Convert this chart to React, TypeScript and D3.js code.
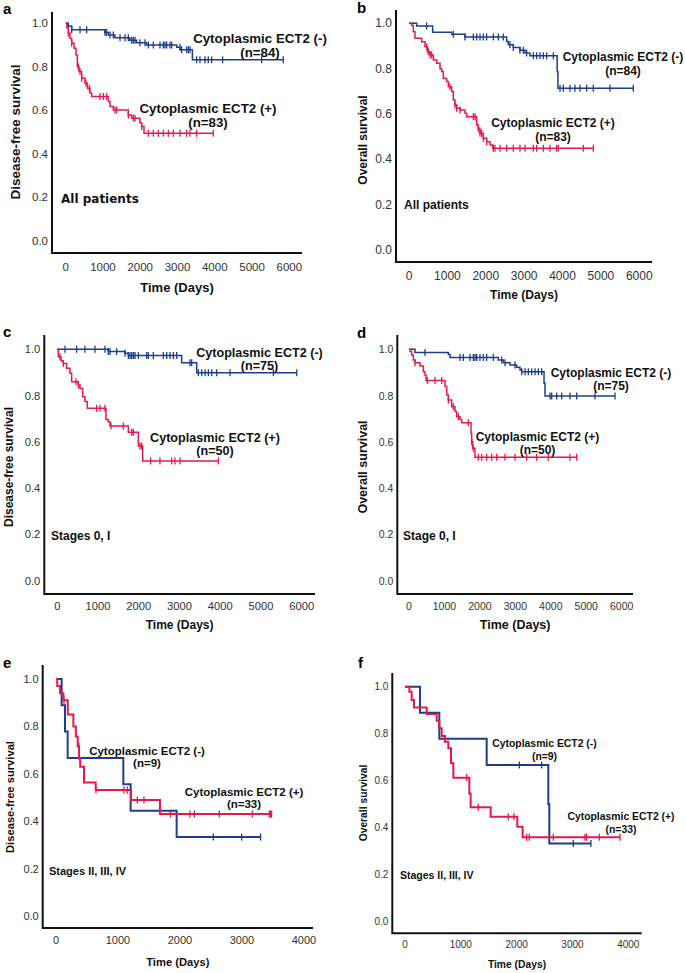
import React from 'react';
import * as d3 from 'd3';

// ---- data (days, survival probability) ----

// a: disease-free survival, all patients
const aNegTimes = [0, 60, 160, 1050, 1150, 1320, 1720, 1900, 2170, 2980, 3070, 3400];
const aNegSurv = [1, 0.988, 0.97, 0.958, 0.946, 0.934, 0.922, 0.911, 0.9, 0.89, 0.878, 0.832];
const aNegCensor = [72, 161, 384, 563, 1055, 1100, 1189, 1278, 1457, 1591, 1681, 1770, 1815, 1860, 1994, 2128, 2217, 2351, 2530, 2620, 2664, 2709, 2798, 2843, 3066, 3111, 3245, 3290, 3334, 3513, 3603, 3737, 3826, 3916, 4211, 5257, 5838];
const aPosTimes = [0, 30, 72, 116, 161, 224, 277, 313, 358, 429, 519, 581, 653, 697, 1144, 1189, 1278, 1681, 1770, 1994, 2038, 2101];
const aPosSurv = [1, 0.98, 0.954, 0.931, 0.908, 0.885, 0.854, 0.8, 0.778, 0.747, 0.724, 0.701, 0.678, 0.663, 0.64, 0.617, 0.601, 0.578, 0.563, 0.543, 0.525, 0.494];
const aPosCensor = [72, 161, 340, 384, 429, 545, 635, 921, 1010, 1100, 1323, 1368, 1681, 1815, 1860, 2038, 2217, 2351, 2485, 2620, 2754, 2888, 3066, 3245, 3334, 3513, 3960];

// b: overall survival, all patients
const bNegTimes = [0, 200, 616, 1111, 1459, 2544, 2588, 2718, 2891, 3022, 3152, 3860, 3880];
const bNegSurv = [1, 0.988, 0.96, 0.952, 0.94, 0.92, 0.905, 0.893, 0.881, 0.869, 0.857, 0.786, 0.714];
const bNegCensor = [460, 1155, 1459, 1676, 1763, 1850, 1936, 2023, 2197, 2327, 2457, 2631, 2718, 2891, 2978, 3065, 3239, 3326, 3412, 3499, 3586, 3760, 3934, 4020, 4194, 4324, 4455, 4628, 4802, 5236, 5844];
const bPosTimes = [0, 69, 113, 156, 330, 417, 478, 547, 634, 721, 808, 851, 894, 981, 1025, 1111, 1155, 1198, 1242, 1328, 1459, 1502, 1763, 1806, 1849, 1936, 2023, 2110, 2179];
const bPosSurv = [1, 0.99, 0.963, 0.934, 0.919, 0.897, 0.875, 0.86, 0.838, 0.824, 0.8, 0.787, 0.757, 0.743, 0.72, 0.699, 0.662, 0.64, 0.625, 0.618, 0.603, 0.588, 0.551, 0.537, 0.515, 0.493, 0.478, 0.463, 0.449];
const bPosCensor = [460, 504, 547, 590, 1068, 1198, 1242, 1328, 1676, 1720, 1806, 1849, 1893, 1936, 2023, 2197, 2240, 2370, 2544, 2718, 2891, 3022, 3239, 3326, 3499, 3673, 3847, 3890, 4541, 4802];

// c: disease-free survival, stages 0, I
const cNegTimes = [0, 1252, 1662, 1744, 3053, 3422];
const cNegSurv = [1, 0.99, 0.983, 0.973, 0.942, 0.899];
const cNegCensor = [188, 475, 679, 925, 1170, 1252, 1293, 1457, 1662, 1744, 1785, 1826, 1867, 1908, 1990, 2194, 2235, 2358, 2604, 2686, 2767, 2849, 2931, 3258, 3299, 3463, 3545, 3627, 3709, 3791, 3913, 4241, 5305, 5878];
const cPosTimes = [0, 25, 90, 147, 229, 311, 352, 516, 557, 622, 679, 737, 1195, 1252, 1293, 1744, 1989, 2096];
const cPosSurv = [1, 0.968, 0.951, 0.939, 0.918, 0.896, 0.86, 0.846, 0.831, 0.795, 0.774, 0.745, 0.697, 0.687, 0.669, 0.641, 0.582, 0.517];
const cPosCensor = [65, 147, 458, 516, 966, 1048, 1170, 1318, 1621, 1826, 1867, 2030, 2071, 2292, 2521, 2808, 2890, 3013, 3954];

// d: overall survival, stage 0, I
const dNegTimes = [0, 169, 1110, 1157, 2520, 2661, 2849, 3037, 3132, 3179, 3809, 3837];
const dNegSurv = [1, 0.986, 0.978, 0.965, 0.954, 0.942, 0.932, 0.922, 0.911, 0.903, 0.853, 0.798];
const dNegCensor = [451, 1439, 1533, 1721, 1815, 1862, 1909, 2003, 2097, 2191, 2379, 2614, 2708, 2990, 3179, 3273, 3367, 3461, 3555, 3649, 3743, 3978, 4025, 4166, 4307, 4542, 4730, 5247, 5812];
const dPosTimes = [0, 28, 75, 122, 169, 310, 404, 451, 480, 1016, 1063, 1110, 1204, 1298, 1345, 1439, 1486, 1749, 1768, 1796, 1862];
const dPosSurv = [1, 0.99, 0.975, 0.954, 0.942, 0.928, 0.903, 0.889, 0.865, 0.839, 0.803, 0.781, 0.752, 0.731, 0.709, 0.697, 0.683, 0.637, 0.601, 0.572, 0.533];
const dPosCensor = [169, 517, 734, 922, 1110, 1251, 1392, 1674, 1768, 1815, 1956, 2050, 2191, 2332, 2473, 2708, 2990, 3320, 3602, 3931, 4542, 4730];

// e: disease-free survival, stages II, III, IV
const eNegTimes = [0, 91, 145, 188, 1086, 1204, 1946];
const eNegSurv = [1, 0.889, 0.778, 0.667, 0.556, 0.444, 0.333];
const eNegCensor = [2537, 2994, 3300];
const ePosTimes = [0, 20, 65, 120, 190, 280, 320, 350, 372, 390, 452, 640, 1210, 1677];
const ePosSurv = [1, 0.97, 0.94, 0.91, 0.85, 0.8, 0.757, 0.715, 0.665, 0.63, 0.563, 0.532, 0.489, 0.43];
const ePosCensor = [129, 371, 645, 1097, 1150, 1312, 1419, 1849, 2161, 2231, 2634, 3166, 3441, 3462, 3478];

// f: overall survival, stages II, III, IV
const fNegTimes = [0, 269, 615, 1463, 2567, 2585];
const fNegSurv = [1, 0.889, 0.778, 0.667, 0.5, 0.333];
const fNegCensor = [2048, 2448, 3015, 3330];
const fPosTimes = [0, 78, 119, 161, 388, 567, 615, 657, 716, 776, 824, 866, 1152, 1176, 1534, 2012, 2107];
const fPosSurv = [1, 0.979, 0.943, 0.912, 0.884, 0.855, 0.823, 0.79, 0.766, 0.738, 0.674, 0.613, 0.546, 0.487, 0.447, 0.404, 0.359];
const fPosCensor = [1104, 1313, 1851, 1952, 2179, 2227, 2657, 3224, 3254, 3481, 3851];

const xTicks6000 = [0, 1000, 2000, 3000, 4000, 5000, 6000];
const xTicks4000 = [0, 1000, 2000, 3000, 4000];
const yTicks = [0, 0.2, 0.4, 0.6, 0.8, 1.0];

const BLUE = '#1f3d8c';
const RED = '#e5194c';
const ARIAL = '"Liberation Sans", Arial, sans-serif';

interface Series { times: number[]; surv: number[]; censor: number[] }

interface Panel {
  letter: string;
  yTitle: string;
  note: string;
  neg: Series; negN: number;
  pos: Series; posN: number;
  xMax: number; xTicks: number[];
  // layout in page pixels
  axisX: number; top: number; bottom: number; right: number;
  x0: number; x1: number; y0: number; y1: number;
  letterX: number; letterY: number;
  xTickY: number; timeY: number; yTitleX: number; yTitleY: number;
  noteX: number; noteY: number; noteFont: string;
  negLab: [number, number]; posLab: [number, number]; labGap: number;
  tickSize: number; titleSize: number; labSize: number; noteSize: number;
  lineW: number;
}

const panels: Panel[] = [
  {
    letter: 'a', yTitle: 'Disease-free survival', note: 'All patients',
    neg: { times: aNegTimes, surv: aNegSurv, censor: aNegCensor }, negN: 84,
    pos: { times: aPosTimes, surv: aPosSurv, censor: aPosCensor }, posN: 83,
    xMax: 6000, xTicks: xTicks6000,
    axisX: 52, top: 12, bottom: 253, right: 302, x0: 65.7, x1: 289.3, y0: 240.7, y1: 23.3,
    letterX: 3, letterY: 14, xTickY: 267, timeY: 287, yTitleX: 15, yTitleY: 132,
    noteX: 61, noteY: 199, noteFont: '"DejaVu Sans", sans-serif',
    negLab: [260, 38], posLab: [208, 108], labGap: 14,
    tickSize: 11.5, titleSize: 13, labSize: 13.3, noteSize: 12, lineW: 1.5,
  },
  {
    letter: 'b', yTitle: 'Overall survival', note: 'All patients',
    neg: { times: bNegTimes, surv: bNegSurv, censor: bNegCensor }, negN: 84,
    pos: { times: bPosTimes, surv: bPosSurv, censor: bPosCensor }, posN: 83,
    xMax: 6000, xTicks: xTicks6000,
    axisX: 396, top: 10, bottom: 262, right: 652, x0: 409, x1: 639.3, y0: 250, y1: 23.3,
    letterX: 357, letterY: 13, xTickY: 276, timeY: 295, yTitleX: 363, yTitleY: 140,
    noteX: 404, noteY: 205, noteFont: ARIAL,
    negLab: [623, 57], posLab: [553, 123], labGap: 14,
    tickSize: 12, titleSize: 12, labSize: 12, noteSize: 12, lineW: 1.5,
  },
  {
    letter: 'c', yTitle: 'Disease-free survival', note: 'Stages 0, I',
    neg: { times: cNegTimes, surv: cNegSurv, censor: cNegCensor }, negN: 75,
    pos: { times: cPosTimes, surv: cPosSurv, censor: cPosCensor }, posN: 50,
    xMax: 6000, xTicks: xTicks6000,
    axisX: 44.3, top: 335, bottom: 594, right: 315, x0: 57.3, x1: 301.7, y0: 580.7, y1: 349.3,
    letterX: 3, letterY: 337, xTickY: 606, timeY: 625, yTitleX: 9, yTitleY: 467,
    noteX: 51, noteY: 536, noteFont: ARIAL,
    negLab: [259.5, 353], posLab: [215, 438], labGap: 13,
    tickSize: 11.2, titleSize: 12, labSize: 12.6, noteSize: 12, lineW: 1.5,
  },
  {
    letter: 'd', yTitle: 'Overall survival', note: 'Stage 0, I',
    neg: { times: dNegTimes, surv: dNegSurv, censor: dNegCensor }, negN: 75,
    pos: { times: dPosTimes, surv: dPosSurv, censor: dPosCensor }, posN: 50,
    xMax: 6000, xTicks: xTicks6000,
    axisX: 397.3, top: 335, bottom: 594, right: 633, x0: 409, x1: 621.7, y0: 580.7, y1: 349.3,
    letterX: 357, letterY: 338, xTickY: 606, timeY: 625, yTitleX: 363, yTitleY: 467,
    noteX: 403, noteY: 536, noteFont: ARIAL,
    negLab: [611, 373], posLab: [537.5, 437], labGap: 13,
    tickSize: 10.5, titleSize: 12.5, labSize: 12, noteSize: 12, lineW: 1.5,
  },
  {
    letter: 'e', yTitle: 'Disease-free survival', note: 'Stages II, III, IV',
    neg: { times: eNegTimes, surv: eNegSurv, censor: eNegCensor }, negN: 9,
    pos: { times: ePosTimes, surv: ePosSurv, censor: ePosCensor }, posN: 33,
    xMax: 4000, xTicks: xTicks4000,
    axisX: 42.7, top: 665, bottom: 928, right: 313, x0: 56, x1: 304, y0: 916, y1: 679,
    letterX: 3, letterY: 668, xTickY: 940, timeY: 962, yTitleX: 10, yTitleY: 797,
    noteX: 49, noteY: 871, noteFont: ARIAL,
    negLab: [147, 751], posLab: [244, 792], labGap: 12.3,
    tickSize: 11, titleSize: 11.2, labSize: 11.5, noteSize: 11, lineW: 2,
  },
  {
    letter: 'f', yTitle: 'Overall survival', note: 'Stages II, III, IV',
    neg: { times: fNegTimes, surv: fNegSurv, censor: fNegCensor }, negN: 9,
    pos: { times: fPosTimes, surv: fPosSurv, censor: fPosCensor }, posN: 33,
    xMax: 4000, xTicks: xTicks4000,
    axisX: 392.3, top: 673, bottom: 933.3, right: 641.7, x0: 405, x1: 628.3, y0: 921.7, y1: 686.7,
    letterX: 358, letterY: 668, xTickY: 944, timeY: 964, yTitleX: 363, yTitleY: 803,
    noteX: 400, noteY: 875, noteFont: ARIAL,
    negLab: [544.5, 743], posLab: [621, 816], labGap: 13,
    tickSize: 10, titleSize: 10.3, labSize: 10.4, noteSize: 10.5, lineW: 2,
  },
];

// survival value of the step function at time t
function stepAt(s: Series, t: number) {
  let v = s.surv[0];
  for (let i = 0; i < s.times.length; i++) if (s.times[i] <= t) v = s.surv[i];
  return v;
}

const KMPanel: React.FC<{ p: Panel }> = ({ p }) => {
  const x = d3.scaleLinear().domain([0, p.xMax]).range([p.x0, p.x1]);
  const y = d3.scaleLinear().domain([0, 1]).range([p.y0, p.y1]);
  const line = d3.line<[number, number]>()
    .x(d => x(d[0]))
    .y(d => y(d[1]))
    .curve(d3.curveStepAfter);

  const curve = (s: Series, color: string) => {
    const end = Math.max(d3.max(s.censor) || 0, s.times[s.times.length - 1]);
    const pts: [number, number][] = s.times.map((t, i) => [t, s.surv[i]]);
    pts.push([end, s.surv[s.surv.length - 1]]);
    return (
      <g>
        <path d={line(pts) || ''} fill="none" stroke={color} strokeWidth={p.lineW} />
        {s.censor.map((t, i) => {
          const cy = y(stepAt(s, t));
          return <line key={i} x1={x(t)} x2={x(t)} y1={cy - 3.5} y2={cy + 3.5} stroke={color} strokeWidth={1.3} />;
        })}
      </g>
    );
  };

  const groupLabel = (pos: [number, number], sign: string, n: number) => (
    <text fontFamily={ARIAL} fontWeight="bold" fontSize={p.labSize} textAnchor="middle" fill="#111">
      <tspan x={pos[0]} y={pos[1]} dominantBaseline="central">{`Cytoplasmic ECT2 (${sign})`}</tspan>
      <tspan x={pos[0]} y={pos[1] + p.labGap} dominantBaseline="central">{`(n=${n})`}</tspan>
    </text>
  );

  return (
    <g>
      <text x={p.letterX} y={p.letterY} fontFamily={ARIAL} fontWeight="bold" fontSize={15}>{p.letter}</text>

      {yTicks.map(v => (
        <text key={v} x={p.axisX - 4} y={y(v)} textAnchor="end" dominantBaseline="central"
          fontFamily={ARIAL} fontSize={p.tickSize} fill="#333">{v.toFixed(1)}</text>
      ))}
      {p.xTicks.map(v => (
        <text key={v} x={x(v)} y={p.xTickY} textAnchor="middle" dominantBaseline="central"
          fontFamily={ARIAL} fontSize={p.tickSize} fill="#333">{v}</text>
      ))}

      <path d={`M${p.axisX},${p.top}V${p.bottom}H${p.right}`} fill="none" stroke="#111" strokeWidth={2} />

      <text x={(p.axisX + p.right) / 2} y={p.timeY} textAnchor="middle" dominantBaseline="central"
        fontFamily={ARIAL} fontWeight="bold" fontSize={p.titleSize} fill="#111">Time (Days)</text>
      <text transform={`translate(${p.yTitleX},${p.yTitleY}) rotate(-90)`} textAnchor="middle" dominantBaseline="central"
        fontFamily={ARIAL} fontWeight="bold" fontSize={p.titleSize + (p.letter === 'a' ? 0.5 : 0)} fill="#111">{p.yTitle}</text>

      <text x={p.noteX} y={p.noteY} dominantBaseline="central" fontFamily={p.noteFont}
        fontWeight="bold" fontSize={p.noteSize} fill="#111">{p.note}</text>

      {curve(p.neg, BLUE)}
      {curve(p.pos, RED)}

      {groupLabel(p.negLab, '-', p.negN)}
      {groupLabel(p.posLab, '+', p.posN)}
    </g>
  );
};

export default function App() {
  return (
    <svg width={685} height={973} style={{ position: 'absolute', left: 0, top: 0, background: '#fff' }}>
      <rect width={685} height={973} fill="#fff" />
      {panels.map(p => <KMPanel key={p.letter} p={p} />)}
    </svg>
  );
}
